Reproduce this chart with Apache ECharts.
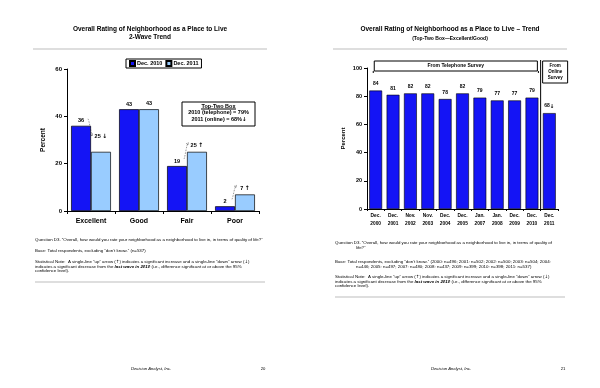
<!DOCTYPE html>
<html><head><meta charset="utf-8">
<script src="https://cdn.jsdelivr.net/npm/echarts@6/dist/echarts.min.js"></script>
<style>html,body{margin:0;padding:0;background:#fff}#c{width:600px;height:388px}</style>
</head><body><div id="c"></div>
<script>
// ---- data ----
const waveCategories = ['Excellent', 'Good', 'Fair', 'Poor'];
const waveSeriesNames = ['Dec. 2010', 'Dec. 2011'];
const dec2010 = [36, 43, 19, 2];
const dec2011 = [25, 43, 25, 7];
const dec2011Marks = ['↓', '', '↑', '↑'];
const waveTicks = { min: 0, max: 60, interval: 20 };

const trendCategories = ['Dec.\n2000', 'Dec.\n2001', 'Nov.\n2002', 'Nov.\n2003', 'Dec.\n2004', 'Dec.\n2005', 'Jan.\n2007', 'Jan.\n2008', 'Dec.\n2009', 'Dec.\n2010', 'Dec.\n2011'];
const trendValues = [84, 81, 82, 82, 78, 82, 79, 77, 77, 79, 68];
const trendMarks = ['', '', '', '', '', '', '', '', '', '', '↓'];
const trendTicks = { min: 0, max: 100, interval: 20 };

// ---- chart ----
const FF = "'Liberation Sans', Arial, Helvetica, 'DejaVu Sans', sans-serif";
const AF = "'DejaVu Sans', sans-serif";
const chart = echarts.init(document.getElementById('c'), null, { renderer: 'canvas' });
const BLUE = '#1414F5', LIGHT = '#99CCFF';
const BODY = 4.4;

function txt(text, x, y, size, opts) {
  opts = opts || {};
  return {
    type: 'text', silent: true,
    style: Object.assign({
      text: text, x: x, y: y,
      font: (opts.weight || 'normal') + ' ' + (opts.style || '') + ' ' + size + 'px ' + FF,
      fill: opts.fill || '#000',
      textAlign: opts.align || 'left',
      textVerticalAlign: 'middle', verticalAlign: 'middle'
    }, opts.extra || {})
  };
}
function hline(x1, x2, y, color) {
  return { type: 'line', silent: true, shape: { x1: x1, y1: y, x2: x2, y2: y }, style: { stroke: color || '#bdbdbd', lineWidth: 1 } };
}
const bodyRich = { b: { fontWeight: 'bold', fontStyle: 'italic', fontSize: BODY, fontFamily: FF }, a: { fontSize: BODY, fontFamily: AF } };
function rtxt(text, x, y) {
  return { type: 'text', silent: true, style: { text: text, x: x, y: y, font: BODY + 'px ' + FF, fill: '#000', textVerticalAlign: 'middle', verticalAlign: 'middle', rich: bodyRich } };
}

const axisCommon = {
  axisLine: { show: true, lineStyle: { color: '#000', width: 1 } },
  axisTick: { show: true, length: 3, lineStyle: { color: '#000' } },
  splitLine: { show: false }
};

const statNote1 = 'Statistical Note:  A single-line “up” arrow ({a|↑}) indicates a significant increase and a single-line “down” arrow ({a|↓})';
const statNote2 = 'indicates a significant decrease from the {b|last wave in 2010} (i.e., difference significant at or above the 95%';

const staticGraphics = [
  // left slide
  txt('Overall Rating of Neighborhood as a Place to Live', 150, 29, 6.5, { weight: 'bold', align: 'center' }),
  txt('2-Wave Trend', 150, 37, 6.5, { weight: 'bold', align: 'center' }),
  hline(33, 267, 49),
  txt('Question D3. “Overall, how would you rate your neighborhood as a neighborhood to live in, in terms of quality of life?”', 35, 240, BODY),
  txt('Base: Total respondents, excluding “don’t know.” (n=537)', 35, 251, BODY),
  rtxt(statNote1, 35, 262),
  rtxt(statNote2, 35, 266.5),
  txt('confidence level).', 35, 271, BODY),
  hline(35, 265, 282),
  txt('Decision Analyst, Inc.', 151, 369, 4.2, { style: 'italic', align: 'center' }),
  txt('20', 263, 369, 4.2, { align: 'center' }),
  // top-two box
  { type: 'rect', silent: true, shape: { x: 182, y: 102, width: 73, height: 24 }, style: { fill: '#fff', stroke: '#000', lineWidth: 1 } },
  txt('Top-Two Box', 218.5, 106, 5.5, { weight: 'bold', align: 'center' }),
  hline(201, 236, 109, '#000'),
  txt('2010 (telephone) = 79%', 218.5, 112.5, 5.5, { weight: 'bold', align: 'center' }),
  { type: 'text', silent: true, style: { text: '2011 (online) = 68%{a|↓}', x: 219, y: 119.5, font: 'bold 5.5px ' + FF, fill: '#000', textAlign: 'center', textVerticalAlign: 'middle', verticalAlign: 'middle', rich: { a: { fontSize: 5.5, fontFamily: AF, fontWeight: 'bold' } } } },

  // right slide
  txt('Overall Rating of Neighborhood as a Place to Live – Trend', 450, 29, 6.5, { weight: 'bold', align: 'center' }),
  txt('(Top-Two Box—Excellent/Good)', 450, 39, 5, { weight: 'bold', align: 'center' }),
  hline(333, 567, 49),
  txt('Question D3. “Overall, how would you rate your neighborhood as a neighborhood to live in, in terms of quality of', 335, 243, BODY),
  txt('life?”', 356, 247.5, BODY),
  txt('Base: Total respondents, excluding “don’t know.” (2000: n=496; 2001: n=502; 2002: n=500; 2003: n=504; 2004:', 335, 262, BODY),
  txt('n=446; 2005: n=497; 2007: n=480; 2008: n=437; 2009: n=399; 2010: n=398; 2011: n=537)', 356, 266.5, BODY),
  rtxt(statNote1, 335, 277),
  rtxt(statNote2, 335, 281.5),
  txt('confidence level).', 335, 286, BODY),
  hline(335, 565, 297),
  txt('Decision Analyst, Inc.', 451, 369, 4.2, { style: 'italic', align: 'center' }),
  txt('21', 563, 369, 4.2, { align: 'center' })
];

const labelRich = { a: { fontFamily: AF, fontSize: 6, fontWeight: 'bold', color: '#000' } };

const option = {
  animation: false,
  backgroundColor: '#fff',
  textStyle: { fontFamily: FF },
  legend: {
    data: waveSeriesNames,
    left: 126, top: 59,
    orient: 'horizontal',
    borderColor: '#000', borderWidth: 1,
    padding: [1, 3, 1, 3],
    itemWidth: 5, itemHeight: 5, itemGap: 3,
    icon: 'rect',
    textStyle: { fontSize: 5.5, fontWeight: 'bold', color: '#000', fontFamily: FF, padding: [0, 0, 0, -3] }
  },
  grid: [
    { left: 67, top: 69, width: 192, height: 142 },
    { left: 367, top: 68, width: 191, height: 141 }
  ],
  xAxis: [
    Object.assign({}, axisCommon, {
      type: 'category', gridIndex: 0, data: waveCategories,
      axisLabel: { fontSize: 7, fontWeight: 'bold', color: '#000', margin: 7, fontFamily: FF }
    }),
    Object.assign({}, axisCommon, {
      type: 'category', gridIndex: 1, data: trendCategories,
      axisTick: { show: true, length: 2, lineStyle: { color: '#000' } },
      axisLabel: { fontSize: 4.8, fontWeight: 'bold', color: '#000', margin: 3, lineHeight: 7.5, interval: 0, fontFamily: FF }
    })
  ],
  yAxis: [
    Object.assign({}, axisCommon, {
      type: 'value', gridIndex: 0, min: waveTicks.min, max: waveTicks.max, interval: waveTicks.interval,
      name: 'Percent', nameLocation: 'middle', nameRotate: 90, nameGap: 20,
      nameTextStyle: { fontSize: 6.5, fontWeight: 'bold', color: '#000', fontFamily: FF },
      axisLabel: { fontSize: 6, fontWeight: 'bold', color: '#000', margin: 5, fontFamily: FF }
    }),
    Object.assign({}, axisCommon, {
      type: 'value', gridIndex: 1, min: trendTicks.min, max: trendTicks.max, interval: trendTicks.interval,
      name: 'Percent', nameLocation: 'middle', nameRotate: 90, nameGap: 21,
      nameTextStyle: { fontSize: 6, fontWeight: 'bold', color: '#000', fontFamily: FF },
      axisLabel: { fontSize: 5.5, fontWeight: 'bold', color: '#000', margin: 5, fontFamily: FF }
    })
  ],
  series: [
    {
      name: waveSeriesNames[0], type: 'bar', xAxisIndex: 0, yAxisIndex: 0,
      data: dec2010,
      barCategoryGap: '17%', barGap: '0%',
      itemStyle: { color: BLUE, borderColor: '#000', borderWidth: 0.7 },
      label: { show: true, position: 'top', distance: 2, fontSize: 5.5, fontWeight: 'bold', color: '#000', fontFamily: FF,
        backgroundColor: '#fff' }
    },
    {
      name: waveSeriesNames[1], type: 'bar', xAxisIndex: 0, yAxisIndex: 0,
      data: dec2011.map((v, i) => ({ value: v, label: { distance: i === 0 ? 12 : 3 } })),
      barCategoryGap: '17%', barGap: '0%',
      itemStyle: { color: LIGHT, borderColor: '#000', borderWidth: 0.7 },
      label: { show: true, position: 'top', fontSize: 5.5, fontWeight: 'bold', color: '#000', fontFamily: FF, rich: labelRich,
        formatter: p => p.value + (dec2011Marks[p.dataIndex] ? ' {a|' + dec2011Marks[p.dataIndex] + '}' : '') }
    },
    {
      name: 'Trend', type: 'bar', xAxisIndex: 1, yAxisIndex: 1,
      data: trendValues,
      barCategoryGap: '26%',
      itemStyle: { color: BLUE, borderColor: '#000', borderWidth: 0.6 },
      label: { show: true, position: 'top', distance: 4, fontSize: 5, fontWeight: 'bold', color: '#000', fontFamily: FF, rich: { a: { fontFamily: AF, fontSize: 5.5, fontWeight: 'bold', color: '#000' } },
        formatter: p => p.value + (trendMarks[p.dataIndex] ? '{a|' + trendMarks[p.dataIndex] + '}' : '') }
    }
  ],
  graphic: { elements: staticGraphics }
};
chart.setOption(option);

// ---- annotations derived from the rendered layout ----
function layoutOf(si, i) {
  return chart.getModel().getSeriesByIndex(si).getData().getItemLayout(i);
}
const extra = [];
[0, 2, 3].forEach(i => {
  const a = layoutOf(0, i), b = layoutOf(1, i);
  const aTop = a.y + Math.min(0, a.height), bTop = b.y + Math.min(0, b.height);
  const sx = a.x + a.width * 0.85, sy = aTop - 7;
  const ex = b.x + 1, ey = bTop - (i === 0 ? 16 : 7);
  const down = ey > sy;
  const c1x = sx + (ex - sx) * 0.3, c1y = down ? sy + (ey - sy) * 0.1 : sy - 2;
  const c2x = sx + (ex - sx) * 0.7, c2y = down ? ey - 4 : ey - 3;
  extra.push({ type: 'bezierCurve', silent: true, shape: { x1: sx, y1: sy, x2: ex, y2: ey, cpx1: c1x, cpy1: c1y, cpx2: c2x, cpy2: c2y },
    style: { stroke: '#555', lineWidth: 0.6, lineDash: [1.5, 1.2], fill: null } });
  const ang = Math.atan2(ey - c2y, ex - c2x), L = 2.5;
  extra.push({ type: 'polyline', silent: true, shape: { points: [
    [ex - L * Math.cos(ang - 0.5), ey - L * Math.sin(ang - 0.5)], [ex, ey], [ex - L * Math.cos(ang + 0.5), ey - L * Math.sin(ang + 0.5)] ] },
    style: { stroke: '#555', lineWidth: 0.6, fill: null } });
});
const nT = trendValues.length;
const firstBar = layoutOf(2, 0), lastPhone = layoutOf(2, nT - 2), onlineBar = layoutOf(2, nT - 1);
const axisY = chart.convertToPixel({ xAxisIndex: 1, yAxisIndex: 1 }, [0, 0])[1];
const divX = (lastPhone.x + lastPhone.width + onlineBar.x) / 2;
const topY = chart.convertToPixel({ xAxisIndex: 1, yAxisIndex: 1 }, [0, trendTicks.max])[1];
extra.push({ type: 'line', silent: true, shape: { x1: divX, y1: topY - 8, x2: divX, y2: axisY }, style: { stroke: '#000', lineWidth: 1 } });
const telL = firstBar.x + 5, telR = lastPhone.x + lastPhone.width - 1;
extra.push({ type: 'rect', silent: true, shape: { x: telL, y: topY - 7, width: telR - telL, height: 10 }, style: { fill: '#fff', stroke: '#000', lineWidth: 1 } });
extra.push({ type: 'line', silent: true, shape: { x1: telL - 1, y1: topY + 3, x2: telL - 1, y2: topY + 5 }, style: { stroke: '#000', lineWidth: 1 } });
extra.push({ type: 'line', silent: true, shape: { x1: telR + 1, y1: topY + 3, x2: telR + 1, y2: topY + 5 }, style: { stroke: '#000', lineWidth: 1 } });
extra.push(txt('From Telephone Survey', (telL + telR) / 2, topY - 2, 5, { weight: 'bold', align: 'center' }));
const onL = divX + 2, onW = 25;
extra.push({ type: 'rect', silent: true, shape: { x: onL, y: topY - 7, width: onW, height: 22 }, style: { fill: '#fff', stroke: '#000', lineWidth: 1 } });
extra.push(txt('From', onL + onW / 2, topY - 2, 4.5, { weight: 'bold', align: 'center' }));
extra.push(txt('Online', onL + onW / 2, topY + 4, 4.5, { weight: 'bold', align: 'center' }));
extra.push(txt('Survey', onL + onW / 2, topY + 10, 4.5, { weight: 'bold', align: 'center' }));

chart.setOption({ graphic: { elements: staticGraphics.concat(extra) } });
</script>
</body></html>
